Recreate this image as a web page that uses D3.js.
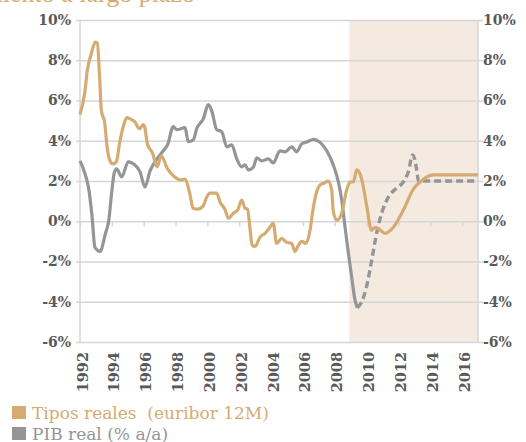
<!DOCTYPE html>
<html>
<head>
<meta charset="utf-8">
<script src="https://cdn.jsdelivr.net/npm/d3@7"></script>
<style>
  body { margin: 0; background: #fff; }
  svg { display: block; }
</style>
</head>
<body>
<div id="main"></div>
<script>
// [year, %]
const tiposReales = [
  [1992.0, 5.3], [1992.3, 6.4], [1992.46, 7.5], [1992.7, 8.3], [1992.96, 8.9], [1993.09, 8.85],
  [1993.24, 7.0], [1993.34, 5.5], [1993.55, 4.9], [1993.7, 3.7], [1993.86, 3.05], [1994.07, 2.85],
  [1994.28, 2.95], [1994.49, 3.9], [1994.75, 4.8], [1994.95, 5.15], [1995.12, 5.1], [1995.43, 4.95],
  [1995.75, 4.6], [1995.96, 4.8], [1996.06, 4.7], [1996.23, 3.85], [1996.55, 3.4], [1996.84, 2.7],
  [1997.1, 3.25], [1997.5, 2.6], [1997.95, 2.2], [1998.37, 2.05], [1998.58, 2.1], [1998.89, 1.4],
  [1999.1, 0.65], [1999.41, 0.6], [1999.73, 0.75], [1999.96, 1.2], [2000.17, 1.4], [2000.58, 1.4],
  [2000.8, 0.95], [2001.1, 0.6], [2001.32, 0.15], [2001.63, 0.4], [2001.9, 0.55], [2002.16, 1.05],
  [2002.36, 0.65], [2002.53, 0.6], [2002.67, -0.3], [2002.82, -1.2], [2002.99, -1.25], [2003.3, -0.8],
  [2003.62, -0.6], [2003.93, -0.3], [2004.14, -0.1], [2004.35, -1.1], [2004.67, -0.85], [2004.98, -1.05],
  [2005.3, -1.1], [2005.5, -1.5], [2005.71, -1.2], [2005.93, -1.0], [2006.18, -1.1], [2006.45, -0.45],
  [2006.6, 0.4], [2006.81, 1.3], [2007.08, 1.8], [2007.35, 1.9], [2007.6, 2.0], [2007.81, 1.55],
  [2007.91, 0.5], [2008.12, 0.05], [2008.44, 0.4], [2008.75, 1.55], [2008.96, 1.95], [2009.17, 1.95],
  [2009.38, 2.55], [2009.59, 2.35], [2009.8, 1.7], [2010.0, 0.8], [2010.32, -0.45], [2010.53, -0.3],
  [2010.8, -0.4], [2011.16, -0.6], [2011.68, -0.3], [2012.31, 0.55], [2012.94, 1.6], [2013.36, 1.95],
  [2014.19, 2.3], [2017.0, 2.3]
];

const pibReal = [
  [1992.0, 3.0], [1992.3, 2.4], [1992.55, 1.6], [1992.75, 0.3], [1992.94, -1.3], [1993.26, -1.5],
  [1993.6, -0.6], [1993.8, 0.0], [1994.0, 1.5], [1994.15, 2.4], [1994.3, 2.6], [1994.62, 2.2],
  [1995.03, 2.95], [1995.25, 2.9], [1995.77, 2.45], [1996.08, 1.7], [1996.4, 2.5], [1996.71, 2.95],
  [1997.23, 3.5], [1997.5, 3.8], [1997.86, 4.7], [1998.07, 4.55], [1998.6, 4.65], [1998.8, 3.95],
  [1999.12, 4.05], [1999.33, 4.6], [1999.75, 5.1], [2000.06, 5.8], [2000.27, 5.5], [2000.59, 4.55],
  [2000.9, 4.45], [2001.22, 3.7], [2001.53, 3.8], [2001.85, 3.1], [2002.16, 2.7], [2002.36, 2.8],
  [2002.58, 2.55], [2002.9, 2.7], [2003.1, 3.15], [2003.42, 3.0], [2003.83, 3.1], [2004.14, 2.9],
  [2004.56, 3.5], [2004.87, 3.45], [2005.3, 3.7], [2005.61, 3.45], [2005.93, 3.85], [2006.3, 3.95],
  [2006.66, 4.07], [2007.08, 3.92], [2007.5, 3.5], [2007.91, 2.8], [2008.23, 1.95], [2008.44, 1.05],
  [2008.65, -0.3], [2008.86, -1.6], [2009.07, -2.8], [2009.27, -3.9], [2009.42, -4.3]
];

// forecast part, dashed
const pibPrevision = [
  [2009.42, -4.3], [2009.7, -4.0], [2010.0, -3.25], [2010.32, -1.95], [2010.63, -0.6], [2010.95, 0.4],
  [2011.37, 1.2], [2011.89, 1.65], [2012.31, 1.95], [2012.62, 2.45], [2012.9, 3.3], [2013.15, 2.55],
  [2013.26, 2.0], [2017.0, 2.0]
];

const yearTicks = d3.range(1992, 2017, 2);
const pctTicks = [-6, -4, -2, 0, 2, 4, 6, 8, 10];
const shadeRange = [2008.92, 2017];
const legendLabels = ["Tipos reales  (euribor 12M)", "PIB real (% a/a)"];

const config = {width: 526, height: 442, left: 80, right: 478, top: 20, bottom: 342};
const colors = {tipos: "#d5ab72", pib: "#939598", shade: "#f4eadf", grid: "#d6d6d6", text: "#595959"};
const serif = "DejaVu Serif, serif";

const svg = d3.select("#main").append("svg")
  .attr("width", config.width)
  .attr("height", config.height);

const x = d3.scaleLinear().domain([1992, 2017]).range([config.left, config.right]);
const y = d3.scaleLinear().domain([-6, 10]).range([config.bottom, config.top]);

// title, only its lower edge shows at the top of the picture
svg.append("text")
  .attr("x", 195).attr("y", 2)
  .attr("text-anchor", "end")
  .style("font-family", "Liberation Serif, serif")
  .style("font-size", "26px")
  .attr("fill", colors.tipos)
  .text("crecimiento a largo plazo");

// shaded forecast area
svg.append("rect")
  .attr("x", x(shadeRange[0]))
  .attr("y", y(10))
  .attr("width", x(shadeRange[1]) - x(shadeRange[0]))
  .attr("height", y(-6) - y(10))
  .attr("fill", colors.shade);

// gridlines + y axes both sides
const yLeft = d3.axisLeft(y).tickValues(pctTicks).tickSize(config.right - config.left + 4)
  .tickFormat(d => d + "%");
const gLeft = svg.append("g")
  .attr("transform", `translate(${config.right},0)`)
  .call(yLeft);
gLeft.select(".domain").remove();
gLeft.selectAll("line").attr("stroke", colors.grid).attr("stroke-width", 1.5);
gLeft.selectAll("text").attr("x", -(config.right - config.left) - 9);

const yRight = d3.axisRight(y).tickValues(pctTicks).tickSize(5).tickFormat(d => d + "%");
const gRight = svg.append("g")
  .attr("transform", `translate(${config.right},0)`)
  .call(yRight);
gRight.select(".domain").attr("stroke", colors.grid).attr("stroke-width", 1.5).attr("d", `M0,${config.top}V${config.bottom}`);
gRight.selectAll("line").attr("stroke", colors.grid).attr("stroke-width", 1.5);
gRight.selectAll("text").attr("x", 5);

svg.append("line")
  .attr("x1", config.left).attr("x2", config.left)
  .attr("y1", config.top).attr("y2", config.bottom)
  .attr("stroke", colors.grid).attr("stroke-width", 1.5);

[gLeft, gRight].forEach(g => g.selectAll("text")
  .style("font-family", serif)
  .style("font-size", "14px")
  .style("font-weight", "bold")
  .attr("fill", colors.text));

// x ticks sit on the zero line
const xAxis = d3.axisBottom(x).tickValues(yearTicks).tickSize(5).tickFormat("");
const gX = svg.append("g")
  .attr("transform", `translate(0,${y(0)})`)
  .call(xAxis);
gX.select(".domain").remove();
gX.selectAll("line").attr("stroke", colors.grid).attr("stroke-width", 1.5);

svg.append("g")
  .selectAll("text")
  .data(yearTicks)
  .join("text")
  .attr("transform", d => `translate(${x(d) + 2.5},${config.bottom + 10}) rotate(-90)`)
  .attr("text-anchor", "end")
  .attr("dy", "0.35em")
  .style("font-family", serif)
  .style("font-size", "14.5px")
  .style("font-weight", "bold")
  .attr("fill", colors.text)
  .text(d => d);

// lines
const line = d3.line().x(d => x(d[0])).y(d => y(d[1])).curve(d3.curveMonotoneX);

svg.append("path").datum(pibReal)
  .attr("d", line).attr("fill", "none")
  .attr("stroke", colors.pib).attr("stroke-width", 3.2);

svg.append("path").datum(pibPrevision)
  .attr("d", line).attr("fill", "none")
  .attr("stroke", colors.pib).attr("stroke-width", 3.4)
  .attr("stroke-dasharray", "7,4");

svg.append("path").datum(tiposReales)
  .attr("d", line).attr("fill", "none")
  .attr("stroke", colors.tipos).attr("stroke-width", 3.2);

// legend
const legend = svg.append("g")
  .selectAll("g")
  .data(legendLabels)
  .join("g")
  .attr("transform", (d, i) => `translate(12,${406 + i * 21})`);

legend.append("rect")
  .attr("width", 14).attr("height", 13)
  .attr("fill", (d, i) => i === 0 ? colors.tipos : colors.pib);

legend.append("text")
  .attr("x", 20).attr("y", 12.5)
  .style("font-family", serif)
  .style("font-size", "17px")
  .style("white-space", "pre")
  .attr("fill", (d, i) => i === 0 ? colors.tipos : colors.pib)
  .text(d => d);
</script>
</body>
</html>
